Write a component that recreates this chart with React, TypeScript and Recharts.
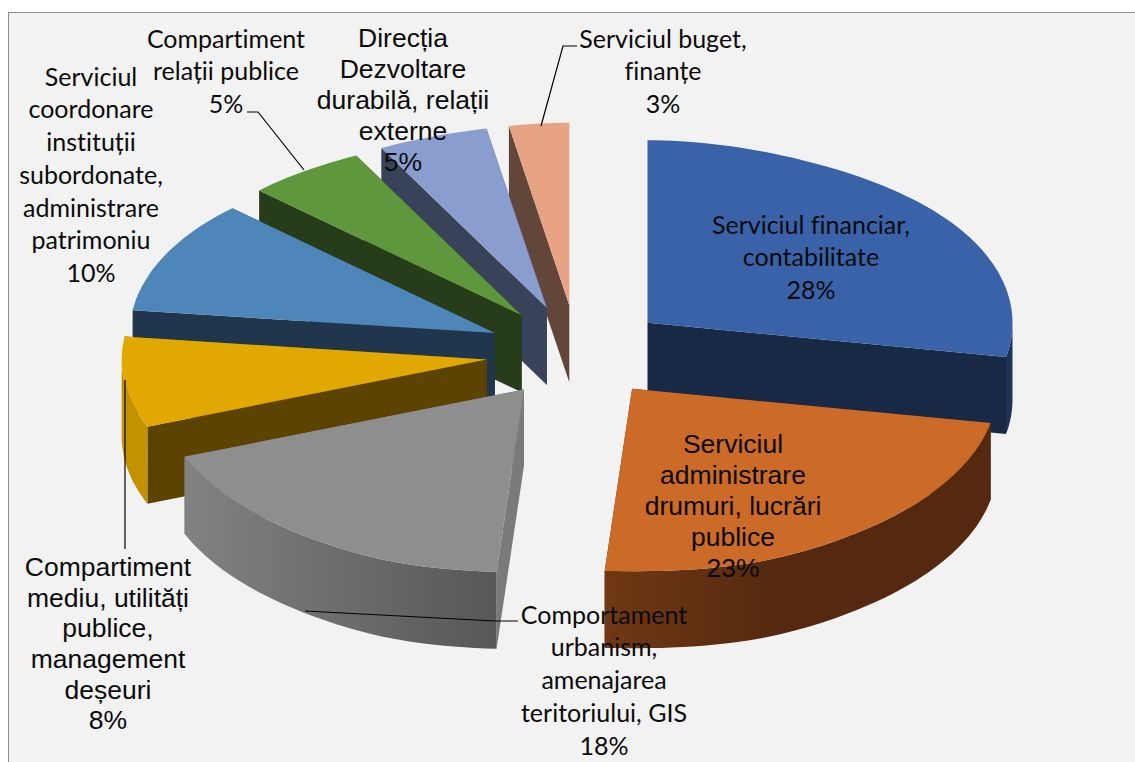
import React from "react";
import { PieChart, Pie } from "recharts";

const categories = [
  "Serviciul financiar,\ncontabilitate",
  "Serviciul\nadministrare\ndrumuri, lucrări\npublice",
  "Comportament\nurbanism,\namenajarea\nteritoriului, GIS",
  "Compartiment\nmediu, utilități\npublice,\nmanagement\ndeșeuri",
  "Serviciul\ncoordonare\ninstituții\nsubordonate,\nadministrare\npatrimoniu",
  "Compartiment\nrelații publice",
  "Direcția\nDezvoltare\ndurabilă, relații\nexterne",
  "Serviciul buget,\nfinanțe",
];
const values = [28, 23, 18, 8, 10, 5, 5, 3];

const topColors = ["#3A62A8", "#CC6A28", "#8E8E8E", "#E0A800", "#4F86BA", "#5F973D", "#8A9DCF", "#E8A284"];
const wallColors = ["#182945", "#54290F", "#7A7A7A", "#5C4400", "#20364D", "#273C18", "#38435A", "#63463A"];
const rimFrom = ["#1F3358", "#703814", "#828282", "#C29200", "#20364D", "#273C18", "#38435A", "#63463A"];
const rimTo = ["#1F3358", "#54290F", "#575757", "#C29200", "#20364D", "#273C18", "#38435A", "#63463A"];
// where each rim gradient reaches its darker colour
const rimStop = ["100%", "45%", "100%", "100%", "100%", "100%", "100%", "100%"];

// far slices first, orange last: it sits on top of the blue wall
const drawOrder = [0, 7, 6, 5, 4, 3, 2, 1];

const LATO = "Lato, sans-serif";
const ARIAL = "'Liberation Sans', Arial, sans-serif";

// label layout per category: centre x, first line y, line step, font, size
const labelLayout = [
  { x: 811, y: 225, step: 32.5, font: LATO, size: 25 },
  { x: 733, y: 444, step: 31, font: ARIAL, size: 26.5 },
  { x: 604, y: 615, step: 32.7, font: LATO, size: 25 },
  { x: 108, y: 567, step: 30.6, font: ARIAL, size: 26.5 },
  { x: 91, y: 77, step: 32.7, font: LATO, size: 25 },
  { x: 226, y: 39, step: 32.5, font: LATO, size: 25 },
  { x: 403, y: 38, step: 31, font: ARIAL, size: 26.5 },
  { x: 663, y: 39, step: 32.5, font: LATO, size: 25 },
];
const leaders: (string | null)[] = [
  null,
  null,
  "305,611 495,621 518,621",
  "125,380 125,549",
  null,
  "304,170 258,112 247,112",
  null,
  "541,126 563,46 577,46",
];

const tableData = drawOrder.map((i) => ({
  idx: i,
  name: categories[i],
  value: values[i],
}));

const total = values.reduce((a, b) => a + b, 0);
const START = 90 - (values[0] / total) * 360;

const SQUASH = 0.5;
const DEPTH = 77;
const RAD = Math.PI / 180;

function arc(ax: number, ay: number, rx: number, ry: number, from: number, to: number) {
  const n = Math.max(2, Math.ceil(Math.abs(to - from) / 1.5));
  const pts: [number, number][] = [];
  for (let k = 0; k <= n; k++) {
    const p = (from + ((to - from) * k) / n) * RAD;
    const c = Math.cos(p);
    // rough perspective: far rim a little narrower, nearest rim a little wider
    const f = 1 - 0.13 * Math.pow(Math.max(0, c), 6) + 0.2 * Math.pow(Math.max(0, -c), 16);
    pts.push([ax + rx * f * Math.sin(p), ay - ry * c]);
  }
  return pts;
}

const toPath = (pts: [number, number][]) =>
  "M" + pts.map((q) => q[0].toFixed(1) + "," + q[1].toFixed(1)).join("L") + "Z";

function Slice(props: any) {
  const { cx, cy, outerRadius, startAngle, endAngle, midAngle, payload } = props;
  const i = payload.idx;
  const rx = outerRadius;
  const ry = outerRadius * SQUASH;

  // clockwise-from-top angles
  const p1 = 90 - Math.max(startAngle, endAngle);
  const p2 = 90 - Math.min(startAngle, endAngle);
  const a1 = ((p1 % 360) + 360) % 360;
  const a2 = a1 + (p2 - p1);
  const mid = (((90 - midAngle) % 360) + 360) % 360;

  // pull each slice out along its middle angle, less on the left and front
  const s = Math.sin(mid * RAD);
  const c = Math.cos(mid * RAD);
  const ax = s >= 0 ? cx - 3 + 98 * s : cx + 3 + 92 * s;
  const ay = c >= 0 ? cy - 49 * c : cy - 44 * c;

  const rim = arc(ax, ay, rx, ry, a1, a2);
  const walls: [number, number][][] = [rim[0], rim[rim.length - 1]].map((q) => [
    [ax, ay],
    q,
    [q[0], q[1] + DEPTH],
    [ax, ay + DEPTH],
  ]);

  const rimFromA = Math.max(a1, 90);
  const rimToA = Math.min(a2, 270);
  let rimPath = null;
  if (rimToA > rimFromA) {
    const top = arc(ax, ay, rx, ry, rimFromA, rimToA);
    const low = top.map((q) => [q[0], q[1] + DEPTH] as [number, number]).reverse();
    rimPath = toPath([...top, ...low]);
  }

  return (
    <g>
      <defs>
        <linearGradient id={"rim" + i} x1="0" x2="1" y1="0" y2="0">
          <stop offset="0%" stopColor={rimFrom[i]} />
          <stop offset={rimStop[i]} stopColor={rimTo[i]} />
        </linearGradient>
      </defs>
      {walls.map((w, k) => (
        <path key={k} d={toPath(w)} fill={wallColors[i]} />
      ))}
      {rimPath && <path d={rimPath} fill={"url(#rim" + i + ")"} />}
      <path d={toPath([[ax, ay], ...rim])} fill={topColors[i]} />
    </g>
  );
}

function SliceLabel(props: any) {
  const i = props.payload ? props.payload.idx : props.idx;
  const l = labelLayout[i];
  const lines = [...categories[i].split("\n"), values[i] + "%"];
  return (
    <g>
      {leaders[i] && <polyline points={leaders[i] as string} fill="none" stroke="#000" strokeWidth={1.2} />}
      <text
        textAnchor="middle"
        fontFamily={l.font}
        fontSize={l.size}
        fill="#0b0b0b"
        style={{ fontVariantLigatures: "none" }}
      >
        {lines.map((t, k) => (
          <tspan key={k} x={l.x} y={l.y + k * l.step} dy="0.35em">
            {t}
          </tspan>
        ))}
      </text>
    </g>
  );
}

export default function App() {
  return (
    <div style={{ position: "absolute", left: 0, top: 0, width: 1135, height: 762, overflow: "hidden", background: "#fff" }}>
      <div
        style={{
          position: "absolute",
          left: 8,
          top: 12,
          right: 0,
          bottom: 0,
          background: "#F2F2F2",
          borderLeft: "1.5px solid #8E8E8E",
          borderTop: "1.5px solid #8E8E8E",
        }}
      />
      <div style={{ position: "absolute", left: 0, top: 0 }}>
        <PieChart width={1135} height={762} margin={{ top: 0, right: 0, bottom: 0, left: 0 }}>
          <Pie
            data={tableData}
            dataKey="value"
            nameKey="name"
            cx={575}
            cy={354}
            innerRadius={0}
            outerRadius={365}
            startAngle={START}
            endAngle={START + 360}
            stroke="none"
            shape={Slice}
            label={(p: any) => <SliceLabel {...p} />}
            labelLine={false}
            isAnimationActive={false}
          />
        </PieChart>
      </div>
    </div>
  );
}
